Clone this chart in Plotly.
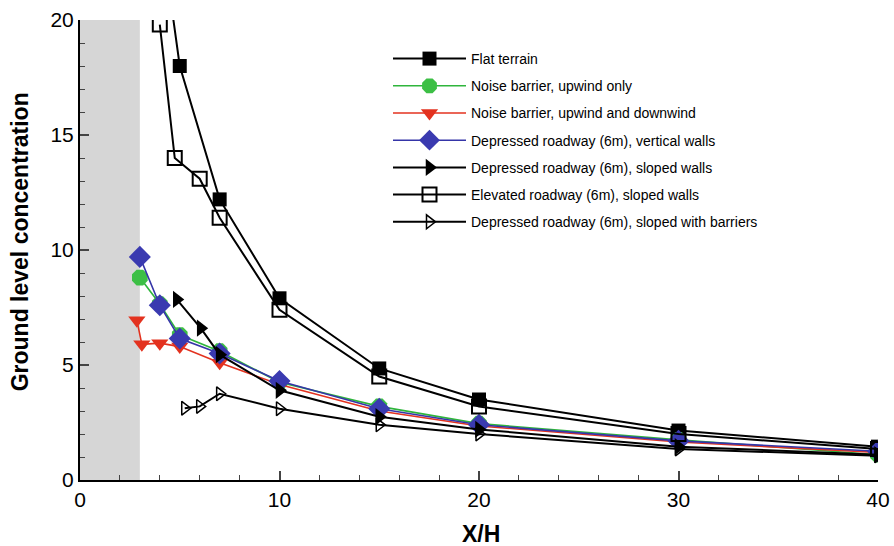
import plotly.graph_objects as go

# ---- data ----
flat_x = [4, 5, 7, 10, 15, 20, 30, 40]
flat_y = [24.3, 18.0, 12.2, 7.9, 4.85, 3.5, 2.15, 1.45]

nb_up_x = [3, 4, 5, 7, 10, 15, 20, 30, 40]
nb_up_y = [8.8, 7.65, 6.3, 5.6, 4.25, 3.2, 2.45, 1.75, 1.1]

nb_updown_x = [2.85, 3.1, 4, 5, 7, 10, 15, 20, 30, 40]
nb_updown_y = [6.95, 5.9, 5.95, 5.8, 5.1, 4.15, 3.0, 2.35, 1.65, 1.2]

dep_vert_x = [3, 4, 5, 7, 10, 15, 20, 30, 40]
dep_vert_y = [9.7, 7.6, 6.15, 5.5, 4.3, 3.1, 2.4, 1.7, 1.25]

dep_slope_x = [4.85, 6.05, 7, 10, 15, 20, 30, 40]
dep_slope_y = [7.85, 6.6, 5.45, 3.9, 2.75, 2.2, 1.45, 1.1]

elev_x = [4, 4.75, 6, 7, 10, 15, 20, 30, 40]
elev_y = [19.8, 14.0, 13.1, 11.4, 7.4, 4.5, 3.2, 2.0, 1.35]

dep_bar_x = [5.25, 6, 7, 10, 15, 20, 30, 40]
dep_bar_y = [3.12, 3.2, 3.75, 3.1, 2.4, 2.0, 1.35, 1.05]

names = [
    "Flat terrain",
    "Noise barrier, upwind only",
    "Noise barrier, upwind and downwind",
    "Depressed roadway (6m), vertical walls",
    "Depressed roadway (6m), sloped walls",
    "Elevated roadway (6m), sloped walls",
    "Depressed roadway (6m), sloped with barriers",
]
x_ticks = [0, 10, 20, 30, 40]
y_ticks = [0, 5, 10, 15, 20]
shaded_x = [0, 3]

fig = go.Figure()

series = [
    (flat_x, flat_y, "black", dict(symbol="square", size=14, color="black")),
    (nb_up_x, nb_up_y, "#2fb53c", dict(symbol="octagon", size=17, color="#3cbf45")),
    (nb_updown_x, nb_updown_y, "#e3321f", dict(symbol="triangle-down", size=15, color="#e3321f")),
    (dep_vert_x, dep_vert_y, "#3535a8", dict(symbol="diamond", size=17, color="#3a3ab0")),
    (dep_slope_x, dep_slope_y, "black", dict(symbol="triangle-right", size=15, color="black")),
    (elev_x, elev_y, "black", dict(symbol="square-open", size=14, color="black", line=dict(width=2))),
    (dep_bar_x, dep_bar_y, "black", dict(symbol="triangle-right-open", size=12, color="black", line=dict(width=1.5))),
]

for i, (xs, ys, lc, mk) in enumerate(series):
    fig.add_trace(go.Scatter(
        x=xs, y=ys, mode="lines+markers", name=names[i],
        line=dict(color=lc, width=2 if lc == "black" else 1.6),
        marker=mk, legendgroup=f"g{i}",
    ))

fig.add_shape(type="rect", xref="x", yref="y", x0=shaded_x[0], x1=shaded_x[1],
              y0=0, y1=20, fillcolor="#d6d6d6", line=dict(width=0), layer="below")

fig.add_annotation(text="<b>X/H</b>", xref="paper", yref="paper", x=0.503, y=-0.117,
                   showarrow=False, font=dict(size=23), xanchor="center", yanchor="middle")
fig.add_annotation(text="<b>Ground level concentration</b>", xref="paper", yref="paper",
                   x=-0.075, y=0.517, textangle=-90, showarrow=False, font=dict(size=23),
                   xanchor="center", yanchor="middle")

fig.update_layout(
    width=894, height=546,
    margin=dict(l=80, r=16, t=20, b=66),
    plot_bgcolor="white", paper_bgcolor="white",
    font=dict(family="Liberation Sans, Arial, sans-serif", color="black"),
    showlegend=True,
    legend=dict(x=(388 - 80) / 798, y=0.950, xanchor="left", yanchor="top", xref="paper",
                bgcolor="rgba(0,0,0,0)", font=dict(size=14),
                tracegroupgap=6, itemwidth=73),
    xaxis=dict(range=[0, 40], tickvals=x_ticks, ticks="inside", ticklen=9,
               tickwidth=1.5, showline=True, linecolor="black", linewidth=2, showgrid=False,
               zeroline=False, tickfont=dict(size=21), automargin=False,
               minor=dict(dtick=2, ticks="inside", ticklen=5, tickwidth=1, showgrid=False)),
    yaxis=dict(range=[0, 20], tickvals=y_ticks, ticks="inside", ticklen=9,
               tickwidth=1.5, showline=True, linecolor="black", linewidth=2, showgrid=False,
               zeroline=False, tickfont=dict(size=21), automargin=False,
               minor=dict(dtick=1, ticks="inside", ticklen=5, tickwidth=1, showgrid=False)),
)

fig.write_html("out.html", config={"displayModeBar": False},
               post_script="document.body.style.margin='0';")
